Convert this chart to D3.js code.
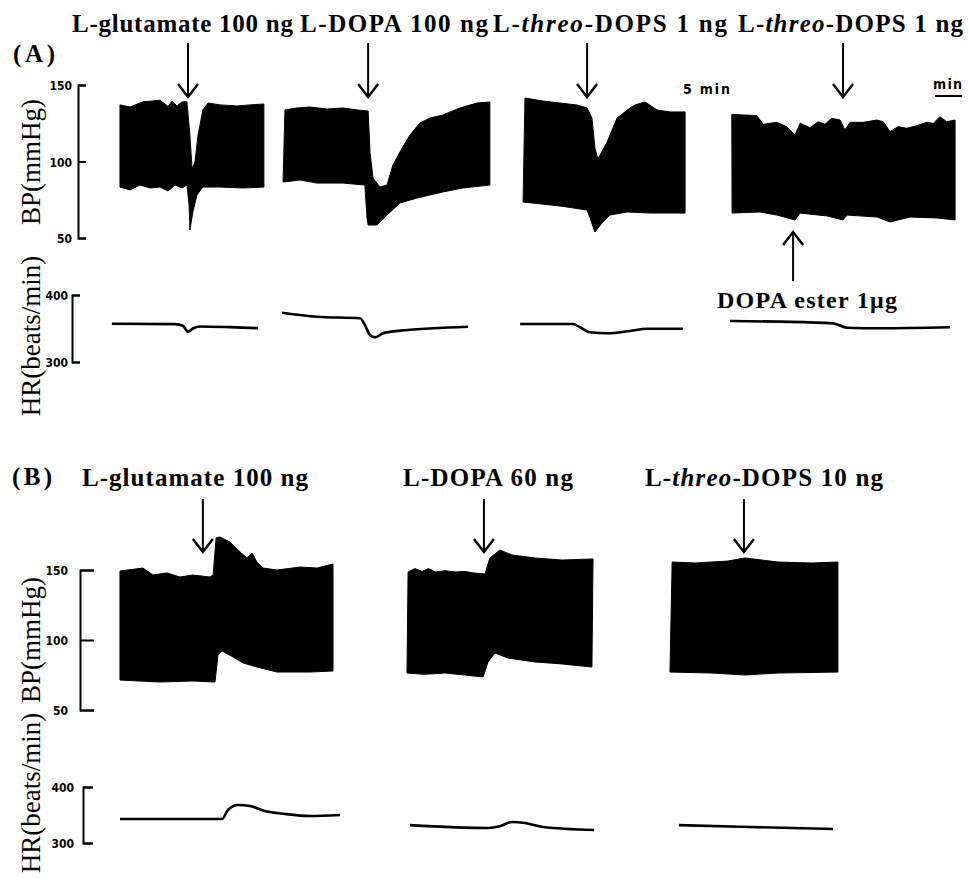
<!DOCTYPE html>
<html lang="en">
<head>
<meta charset="utf-8">
<title>BP and HR responses</title>
<script src="https://cdn.jsdelivr.net/npm/d3@7"></script>
<style>
	body { margin: 0; background: #fff; }
	svg { display: block; }
	.lbl { font-family: "Liberation Serif", "Times New Roman", serif; font-weight: bold; fill: #000; }
	.axis-title { font-family: "Liberation Serif", "Times New Roman", serif; font-size: 27px; fill: #000; }
	.tick text { font-family: "DejaVu Sans Condensed", "Liberation Sans", sans-serif; font-weight: bold; font-size: 12px; fill: #000; }
	.axis path, .axis line { stroke: #000; stroke-width: 2; fill: none; }
	.small { font-family: "DejaVu Sans Condensed", "Liberation Sans", sans-serif; font-weight: bold; font-size: 14px; }
	.env { fill: #000; stroke: #000; stroke-width: 1; stroke-linejoin: round; }
	.hr { fill: none; stroke: #000; stroke-width: 2.6; stroke-linejoin: round; }
	.arrow { fill: none; stroke: #000; stroke-width: 2; }
</style>
</head>
<body>
<script>
// ---- data: time on the record (min), BP (mmHg), HR (beats/min) ----
const bpTicks = [50, 100, 150];
const hrTicks = [300, 400];

const labelsA = ["L-glutamate 100 ng", "L-DOPA 100 ng", "L-threo-DOPS 1 ng", "L-threo-DOPS 1 ng"];
const labelsB = ["L-glutamate 100 ng", "L-DOPA 60 ng", "L-threo-DOPS 10 ng"];

// injection times (min)
const injA = [3.26, 9.93, 18.04, 27.52];
const esterA = 25.67;
const injB = [3.81, 14.22, 23.85];

// panel A, BP envelope (systolic top / diastolic bottom)
const a1Top = [[0.74,137],[1.11,135.6],[1.59,139],[2.22,140],[2.52,136],[2.67,139.5],[2.85,136.3],[3.04,139],[3.22,139],[3.33,117],[3.41,95],[3.52,99.7],[3.63,117],[3.81,133.7],[4.0,138.2],[4.44,137],[5.07,136.3],[5.56,137],[6.07,137.6]];
const a1Bot = [[0.74,83.3],[1.11,81.4],[1.48,84.6],[1.85,82.7],[2.22,83.3],[2.52,80.7],[2.78,84.6],[3.04,82.7],[3.22,84.6],[3.30,71.6],[3.33,55.2],[3.44,67],[3.59,78.1],[3.81,83.3],[4.44,83.3],[5.30,82.7],[6.07,83.3]];
const a2Top = [[6.85,133.7],[7.30,135],[7.78,135.6],[8.41,134.3],[9.0,135],[9.52,133.7],[9.93,133],[10.0,106.2],[10.11,89.2],[10.37,83.3],[10.63,84.6],[10.85,97.7],[11.11,106.2],[11.48,117.3],[11.85,125.2],[12.22,128.4],[12.70,130.4],[13.33,135],[13.96,138.2],[14.44,138.9]];
const a2Bot = [[6.78,86.6],[7.41,87.9],[8.04,85.9],[9.0,85.9],[9.81,84.6],[9.89,63.1],[9.93,58.5],[10.26,58.5],[10.63,65],[11.11,72.9],[11.74,76.1],[12.70,80.1],[13.44,82.7],[14.44,84.6]];
const a3Top = [[15.74,141.5],[16.41,139.5],[17.04,138.2],[17.67,136.9],[18.04,135],[18.22,128.4],[18.33,108.8],[18.44,101.6],[18.78,112.7],[19.15,128.4],[19.63,135],[19.81,136.9],[20.19,138.9],[20.63,133.7],[21.11,132.4],[21.67,132.4]];
const a3Bot = [[15.67,73.5],[17.04,70.9],[18.04,68.3],[18.15,63.1],[18.33,53.9],[18.59,59.8],[18.89,65],[19.52,67],[20.37,66.3],[21.67,66.3]];
const a4Top = [[23.40,130.8],[24.32,130],[24.57,124.3],[25.06,125.6],[25.43,122.8],[25.74,117.3],[25.93,125],[26.30,122.1],[26.60,126],[26.85,124.3],[27.10,128.2],[27.41,127.1],[27.59,120.6],[27.78,125.6],[28.27,125.6],[28.77,127.1],[29.01,126],[29.26,119.5],[29.57,122.8],[29.88,121.7],[30.25,123.4],[30.62,125.6],[30.86,124.9],[31.11,129.3],[31.36,126],[31.67,127.1]];
const a4Bot = [[23.41,66.3],[24.44,67],[25.07,65],[25.74,61.8],[25.93,66.3],[26.93,64.4],[27.52,61.8],[27.67,65],[28.78,63.7],[29.26,60.5],[30.0,63.7],[31.0,63.1],[31.67,61.8]];

// panel A, HR
const hrA1 = [[0.44,357],[2.78,356.5],[3.07,354],[3.26,345],[3.44,350],[3.70,353],[4.81,352],[5.85,350.5]];
const hrA2 = [[6.74,373.6],[8.04,367.6],[9.63,365.2],[9.81,355.2],[10.0,340.3],[10.19,336.8],[10.48,342.8],[11.11,346.8],[12.33,350.3],[13.63,352.7]];
const hrA3 = [[15.56,356.7],[17.52,356.7],[17.78,351.8],[18.15,344.3],[18.78,342.8],[19.63,346.3],[20.26,349.7],[21.59,349.7]];
const hrA4 = [[23.33,361.2],[25.19,360.2],[27.15,357.7],[27.67,351.2],[28.89,350.3],[31.48,351.8]];

// panel B, BP envelope
const b1Top = [[0.74,149.3],[1.59,151.4],[1.96,146.4],[2.48,147.9],[2.96,145],[3.44,146.4],[4.07,145],[4.19,146.4],[4.30,172.9],[4.44,173.6],[4.81,170],[5.19,162.9],[5.44,158.6],[5.63,162.1],[5.81,155.7],[6.04,151.4],[6.56,150],[7.41,152.1],[8.04,151.4],[8.63,154.3]];
const b1Bot = [[0.74,71.4],[2.22,70],[3.44,70.7],[4.26,70],[4.37,89.3],[4.52,92.1],[4.93,87.9],[5.30,83.6],[5.81,80.7],[6.56,77.1],[7.78,77.1],[8.63,77.9]];
const b2Top = [[11.41,148.6],[11.66,151],[11.93,149],[12.17,151],[12.42,148.6],[12.78,149.5],[13.15,148.6],[13.52,149],[13.78,148],[14.26,147.1],[14.44,158.6],[14.81,164.3],[15.26,160.7],[16.11,158.6],[17.11,157.1],[18.26,157.9]];
const b2Bot = [[11.37,76.4],[12.0,75.5],[12.78,76.4],[13.5,75],[14.19,73.6],[14.37,84.3],[14.63,90.7],[15.11,87.1],[16.11,84.3],[17.11,82.9],[18.22,80.7]];
const b3Top = [[21.19,155.7],[22.04,155],[23.26,156.4],[23.89,158.6],[25.11,155.7],[26.37,155],[27.33,155.7]];
const b3Bot = [[21.11,77.1],[22.67,76.4],[23.89,75],[25.11,76.4],[27.33,77.1]];

// panel B, HR
const hrB1 = [[0.74,342.9],[4.52,342.9],[4.74,359],[5.11,367.9],[5.56,366],[6.11,357],[6.85,351.8],[7.78,348.2],[8.89,350]];
const hrB2 = [[11.48,332],[14.37,326.8],[14.81,330],[15.26,337.5],[15.74,335.7],[16.41,328.6],[18.30,323.2]];
const hrB3 = [[21.44,332],[24.07,328.6],[27.15,325]];

const scaleBarStart = 30.93; // 1 min bar

// ---- layout ----
const width = 969, height = 878;

const svg = d3.select("body").append("svg")
	.attr("width", width)
	.attr("height", height);

const x = d3.scaleLinear().domain([0, 32]).range([100, 964]);
const yBpA = d3.scaleLinear().domain([50, 150]).range([238, 85]);
const yHrA = d3.scaleLinear().domain([300, 400]).range([362, 295]);
const yBpB = d3.scaleLinear().domain([50, 150]).range([710, 570]);
const yHrB = d3.scaleLinear().domain([300, 400]).range([843, 787]);

// stretch text to a given width, like the scanned lettering
function fitText(sel, w) {
	const len = sel.node().getComputedTextLength();
	const n = sel.text().length;
	sel.style("letter-spacing", ((w - len) / (n - 1)) + "px");
}

function label(str, lx, ly, w, size) {
	const t = svg.append("text").attr("class", "lbl")
		.attr("x", lx).attr("y", ly)
		.style("font-size", size + "px");
	const parts = str.split("threo");
	if (parts.length > 1) {
		t.append("tspan").text(parts[0]);
		t.append("tspan").style("font-style", "italic").text("threo");
		t.append("tspan").text(parts[1]);
	} else {
		t.text(str);
	}
	fitText(t, w);
	return t;
}

function envelope(top, bot, yS) {
	const line = d3.line().x(d => x(d[0])).y(d => yS(d[1]));
	svg.append("path")
		.attr("class", "env")
		.attr("d", line(top.concat(bot.slice().reverse())) + "Z");
}

function hrTrace(data, yS) {
	svg.append("path")
		.attr("class", "hr")
		.attr("d", d3.line().x(d => x(d[0])).y(d => yS(d[1])).curve(d3.curveMonotoneX)(data));
}

function arrow(t, y0, y1) {
	const ax = x(t);
	const dir = y1 > y0 ? 1 : -1;
	svg.append("line").attr("class", "arrow")
		.attr("x1", ax).attr("x2", ax).attr("y1", y0).attr("y2", y1);
	svg.append("path").attr("class", "arrow")
		.style("stroke-width", 2.4)
		.attr("d", `M${ax - 10},${y1 - dir * 13}L${ax},${y1}L${ax + 10},${y1 - dir * 13}`);
}

function axis(yS, ticks, xPos, tickLen, gap) {
	const g = svg.append("g").attr("class", "axis")
		.attr("transform", `translate(${xPos},0)`)
		.call(d3.axisRight(yS).tickValues(ticks).tickSize(tickLen).tickFormat(d3.format("d")));
	g.selectAll(".tick text").attr("x", -gap).attr("text-anchor", "end").attr("dy", "0.38em");
}

function axisTitle(str, cx, cy) {
	svg.append("text").attr("class", "axis-title")
		.attr("transform", `translate(${cx},${cy}) rotate(-90)`)
		.attr("text-anchor", "middle")
		.text(str);
}

// ---- panel A ----
fitText(svg.append("text").attr("class", "lbl").attr("x", 13).attr("y", 62).style("font-size", "25px").text("(A)"), 42);
const posA = [[72, 221], [300, 188], [493, 234], [738, 225]];
labelsA.forEach((s, i) => label(s, posA[i][0], 32, posA[i][1], 25));

axis(yBpA, bpTicks, 78, 8, 6);
axis(yHrA, hrTicks, 72, 8, 4);
axisTitle("BP(mmHg)", 40, 162);
axisTitle("HR(beats/min)", 40, 336);

[[a1Top, a1Bot], [a2Top, a2Bot], [a3Top, a3Bot], [a4Top, a4Bot]].forEach(s => envelope(s[0], s[1], yBpA));
[hrA1, hrA2, hrA3, hrA4].forEach(d => hrTrace(d, yHrA));

injA.forEach(t => arrow(t, 43, 97));
arrow(esterA, 281, 232);
label("DOPA ester 1μg", 717, 308, 180, 24);

fitText(svg.append("text").attr("class", "small").attr("x", 683).attr("y", 94).text("5 min"), 47);
fitText(svg.append("text").attr("class", "small").attr("x", 933).attr("y", 89).text("min"), 29);
svg.append("line").attr("class", "arrow")
	.attr("x1", x(scaleBarStart)).attr("x2", x(scaleBarStart + 1))
	.attr("y1", 96).attr("y2", 96);

// ---- panel B ----
fitText(svg.append("text").attr("class", "lbl").attr("x", 12).attr("y", 485).style("font-size", "25px").text("(B)"), 40);
const posB = [[82, 226], [403, 170], [645, 238]];
labelsB.forEach((s, i) => label(s, posB[i][0], 486, posB[i][1], 25));

axis(yBpB, bpTicks, 80, 14, 12);
axis(yHrB, hrTicks, 83, 10, 9);
axisTitle("BP(mmHg)", 40, 640);
axisTitle("HR(beats/min)", 40, 793);

[[b1Top, b1Bot], [b2Top, b2Bot], [b3Top, b3Bot]].forEach(s => envelope(s[0], s[1], yBpB));
[hrB1, hrB2, hrB3].forEach(d => hrTrace(d, yHrB));

injB.forEach(t => arrow(t, 499, 552));
</script>
</body>
</html>
